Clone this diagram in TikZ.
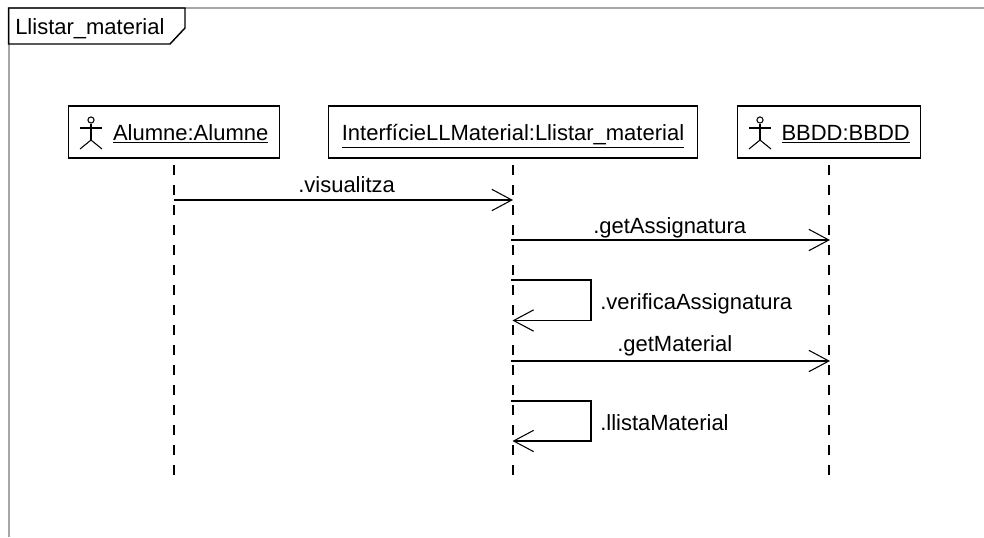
\documentclass[tikz,border=0pt]{standalone}
\usepackage{fontspec}
\setmainfont{Liberation Sans}
\usetikzlibrary{arrows.meta}
\newcommand{\actorgap}{\hspace*{25pt}}
\tikzset{
    txt/.style = {inner sep=0pt, anchor=base west, font=\fontsize{16.5}{18}\selectfont},
    objbox/.style = {draw, line width=1.1pt, minimum height=39pt, inner sep=0pt, text height=15.3pt, text depth=2.5pt, font=\fontsize{16.5}{18}\selectfont},
    lifeline/.style = {line width=1.4pt, dash pattern=on 7.5pt off 7.5pt, shorten <=5pt},
    msg/.style = {line width=1.1pt, -{Straight Barb[length=15pt,width=16pt,line width=0.8pt]}},
    actor/.pic = {
        \draw[line width=0.8pt] (0,-8) circle (2.3pt);
        \draw[line width=0.8pt] (-11,0) -- (11,0);
        \draw[line width=0.8pt] (0,-4) -- (0,12);
        \draw[line width=0.8pt] (-11,21) -- (0,12) -- (11,21);
    }
}
\begin{document}
\begin{tikzpicture}[x=0.75pt, y=-0.75pt]
    \useasboundingbox (0,0) rectangle (984,537);
    \fill[white] (0,0) rectangle (984,537);
    % frame
    \draw[line width=1.5pt, color={black!35}] (8.5,537) -- (8.5,8) -- (984,8);
    \draw[line width=1.1pt] (8.5,8) -- (185,8) -- (185,28) -- (170,44) -- (8.5,44) -- cycle;
    \node[txt] (titol) at (15,34.5) {Llistar\_material};
    % objects
    \node[objbox, minimum width=158pt] (alumne) at (174,132) {\actorgap\underline{Alumne:Alumne}};
    \pic at (91,128) {actor};
    \node[objbox, minimum width=277pt] (interficie) at (513,132) {\underline{InterfícieLLMaterial:Llistar\_material}};
    \node[objbox, minimum width=137pt] (bbdd) at (829,132) {\actorgap\underline{BBDD:BBDD}};
    \pic at (760,128) {actor};
    % lifelines
    \coordinate (alumnefi) at (174,476);
    \coordinate (interficiefi) at (513,476);
    \coordinate (bbddfi) at (829,476);
    \draw[lifeline] (alumne) -- (alumnefi);
    \draw[lifeline] (interficie) -- (interficiefi);
    \draw[lifeline] (bbdd) -- (bbddfi);
    % messages
    \coordinate (a1) at (174,200);
    \coordinate (i1) at (513,200);
    \coordinate (i2) at (511,240);
    \coordinate (b2) at (830,240);
    \coordinate (i3) at (511,280);
    \coordinate (i4) at (512.5,320.5);
    \coordinate (i5) at (511,361);
    \coordinate (b5) at (830,361);
    \coordinate (i6) at (511,401);
    \coordinate (i7) at (512.5,441);
    \draw[msg] (a1) -- (i1);
    \node[txt] (m1) at (298,192) {.visualitza};
    \draw[msg] (i2) -- (b2);
    \node[txt] (m2) at (593,233) {.getAssignatura};
    \draw[msg] (i3) -- (591,280) -- (591,320.5) -- (i4);
    \node[txt] (m3) at (600,309) {.verificaAssignatura};
    \draw[msg] (i5) -- (b5);
    \node[txt] (m4) at (617,351) {.getMaterial};
    \draw[msg] (i6) -- (591,401) -- (591,441) -- (i7);
    \node[txt] (m5) at (600,430) {.llistaMaterial};
\end{tikzpicture}
\end{document}
